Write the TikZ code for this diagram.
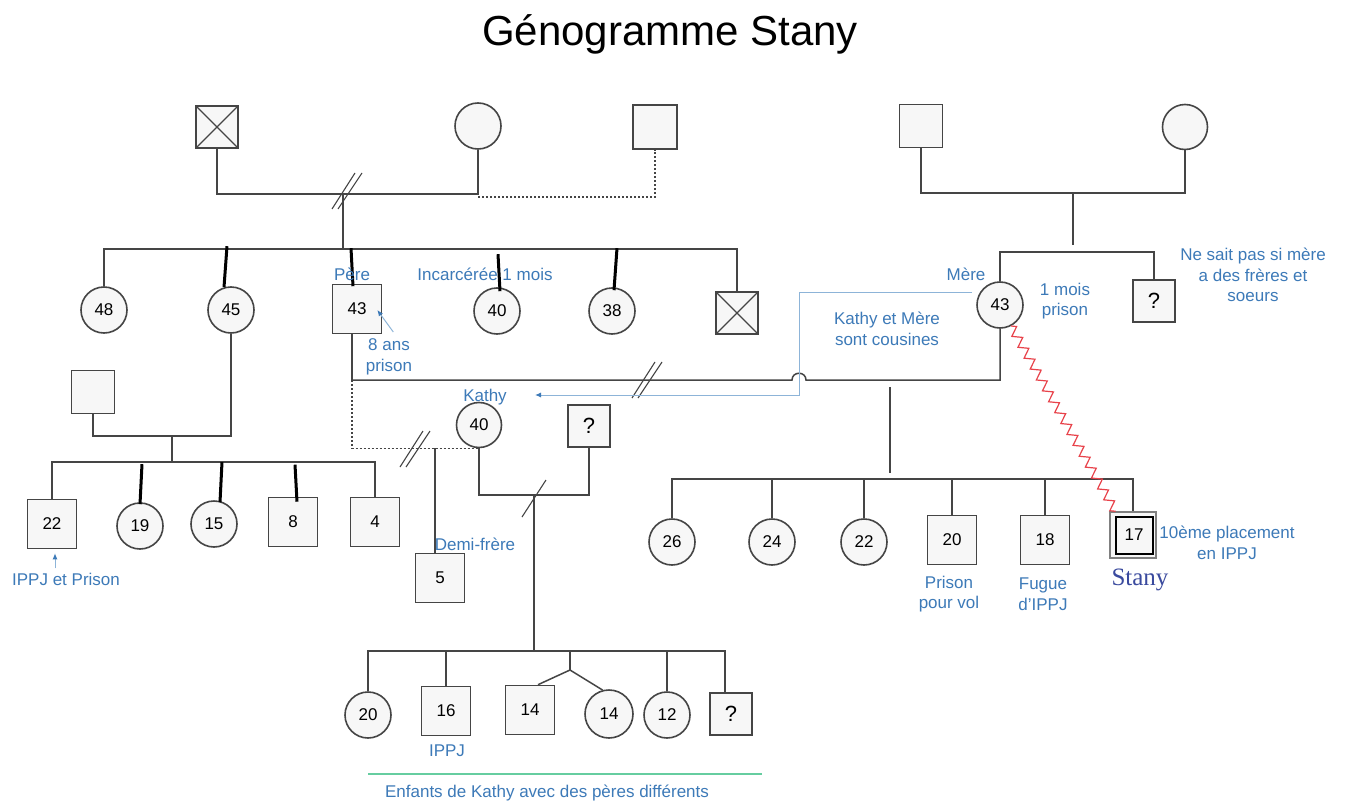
\documentclass[tikz,border=0pt]{standalone}
\usepackage{fontspec}
\setmainfont{Liberation Sans}
\newfontfamily\stanyfont{Liberation Serif}
\usetikzlibrary{calc,arrows.meta,decorations.pathmorphing}
\definecolor{ln}{HTML}{454545}
\definecolor{fl}{HTML}{F7F7F7}
\definecolor{lb}{HTML}{3D7AB8}
\definecolor{lbl}{HTML}{8DB4D8}
\definecolor{rz}{HTML}{E8434B}
\definecolor{gr}{HTML}{66CDA0}
\definecolor{sb}{HTML}{3A4A9E}
\tikzset{
 every node/.style={font=\fontsize{17}{20.5}\selectfont},
 sqn/.style={draw=ln, fill=fl, line width=1.6pt, rectangle, minimum size=49pt, inner sep=0pt},
 cin/.style={draw=ln, fill=fl, line width=1.6pt, circle, minimum size=46pt, inner sep=0pt},
 crossn/.style={sqn, path picture={\draw[ln,line width=1.2pt] (path picture bounding box.north west) -- (path picture bounding box.south east) (path picture bounding box.north east) -- (path picture bounding box.south west);}},
 conn/.style={draw=ln, line width=1.5pt},
 boldc/.style={draw=black, line width=3pt},
 dotc/.style={draw=ln, line width=1.5pt, dash pattern=on 2pt off 2pt},
 lab/.style={text=lb, align=center},
 barrow/.style={draw=lbl, line width=1pt, -{Latex[length=6pt,width=5pt,color=lb]}},
 qmark/.style={font=\fontsize{22}{24}\selectfont},
}
\newcommand\dblslash[1]{\draw[conn,line width=1.1pt] ($(#1)+(-14,18)$) -- ($(#1)+(9,-18)$) ($(#1)+(-8,18)$) -- ($(#1)+(16,-18)$);}
\begin{document}
\begin{tikzpicture}[x=1pt,y=-1pt]
\useasboundingbox[fill=white] (0,0) rectangle (1345,803);
\node[font=\fontsize{42}{48}\selectfont] (title) at (670,34) {Génogramme Stany};

% generation 1
\node[crossn, minimum size=42pt] (gf1) at (217,127) {};
\node[cin, minimum size=46pt] (gm1) at (478,126) {};
\node[sqn, minimum size=44pt] (gp2) at (655,127) {};
\node[sqn, minimum size=43pt] (gf2) at (921,126) {};
\node[cin, minimum size=45pt] (gm2) at (1185,127) {};

% generation 2 left
\node[cin] (a48) at (104,310) {48};
\node[cin] (a45) at (231,310) {45};
\node[sqn] (pere) at (357,309) {43};
\node[cin] (a40) at (497,311) {40};
\node[cin] (a38) at (612,311) {38};
\node[crossn, minimum size=42pt] (ax) at (737,313) {};

% right
\node[cin] (mere) at (1000,305) {43};
\node[sqn, minimum size=42pt, qmark] (mq) at (1154,301) {?};

% connectors gen1 left
\coordinate (m1) at (343,194);
\draw[conn] (gf1.south) |- (m1) -| (gm1.south);
\coordinate (d1) at (478,197);
\draw[dotc] (d1) -| (gp2.south);
\coordinate (s1) at (343,249);
\draw[conn] (m1) -- (s1);
\draw[conn] (a48.north) |- (s1) -| (ax.north);
\dblslash{346,191}

\draw[boldc] ($(a45.north)+(-7,1)$) -- ($(a45.north)+(-4,-40)$);
\draw[boldc] ($(pere.north)+(-4,2.5)$) -- ($(pere.north)+(-6,-35.5)$);
\draw[boldc] ($(a40.north)+(3,4)$) -- ($(a40.north)+(1,-33)$);
\draw[boldc] ($(a38.north)+(2,3)$) -- ($(a38.north)+(5,-39)$);

% mother's family
\coordinate (m2) at (1073,193);
\draw[conn] (gf2.south) |- (m2) -| (gm2.south);
\draw[conn] (m2) -- ++(0,52);
\coordinate (s2) at (1073,252);
\draw[conn] (mere.north) |- (s2) -| (mq.north);

% marriage Pere - Mere
\coordinate (pm) at (352,380);
\draw[conn] (pm |- pere.south) -- (pm);
\coordinate (hump) at (799,380);
\draw[conn] (pm) -- ($(hump)+(-7,0)$) .. controls ($(hump)+(-7,-9)$) and ($(hump)+(7,-9)$) .. ($(hump)+(7,0)$) -- (mere.south |- pm) -- (mere.south);
\dblslash{646,380}

% cousins line
\coordinate (cA) at (972,292);
\coordinate (cB) at (799,395);
\coordinate (cC) at (535,395);
\draw[barrow] (cA) -| (cB) -- (cC);

% children Pere - Mere
\node[cin] (c26) at (672,542) {26};
\node[cin] (c24) at (772,542) {24};
\node[cin] (c22) at (864,542) {22};
\node[sqn] (c20) at (952,540) {20};
\node[sqn] (c18) at (1045,540) {18};
\node[sqn, minimum size=46pt, draw=gray, line width=1.3pt] (stany) at (1133,535) {};
\node[draw=black, line width=2pt, minimum size=37pt, inner sep=0pt, fill=fl] (stanyin) at (1134,535) {17};
\coordinate (pmd) at (890,387);
\coordinate (cs) at (890,479);
\draw[conn] (pmd) -- ($(cs)+(0,-6)$);
\draw[conn] (c26.north) |- (cs) -| (stany.north);
\foreach \n in {c24,c22,c20,c18} \draw[conn] (\n.north) -- (\n.north |- cs);
\draw[rz, line width=1.2pt, decorate, decoration={zigzag, segment length=12.5pt, amplitude=4.5pt}] (mere.-62) -- ($(stany.north west)+(6,0)$);

% left generation 3
\node[sqn, minimum size=43pt] (p45) at (93,392) {};
\coordinate (pu) at (172,436);
\draw[conn] (p45.south) |- (pu) -| (a45.south);
\coordinate (bs) at (172,462);
\draw[conn] (pu) -- (bs);
\node[sqn] (b22) at (52,524) {22};
\node[cin] (b19) at (140,526) {19};
\node[cin] (b15) at (214,524) {15};
\node[sqn] (b8) at (293,522) {8};
\node[sqn] (b4) at (375,522) {4};
\draw[conn] (b22.north) |- (bs) -| (b4.north);
\draw[boldc] ($(b19.north)+(0,2)$) -- ($(b19.north)+(2,-38)$);
\draw[boldc] ($(b15.north)+(6,2)$) -- ($(b15.north)+(8,-38)$);
\draw[boldc] ($(b8.north)+(4,5)$) -- ($(b8.north)+(2,-32)$);
\draw[barrow] ($(b22.south)+(3,19)$) -- ($(b22.south)+(3,4)$);

% Kathy
\node[cin, minimum size=45pt] (kathy) at (479,425) {40};
\node[sqn, minimum size=42pt, qmark] (kq) at (589,426) {?};
\draw[dotc] (pm) |- (kathy.south);
\node[sqn] (h5) at (440,578) {5};
\coordinate (hb) at (435,448);
\draw[conn] (hb) -- (hb |- h5.north);
\dblslash{414,449}
\coordinate (ku) at (534,495);
\draw[conn] (kathy.south) |- (ku) -| (kq.south);
\draw[conn, line width=1.1pt] ($(ku)+(-12,22)$) -- ($(ku)+(12,-15)$);
\coordinate (ks) at (534,651);
\draw[conn] (ku) -- (ks);

% Kathy's children
\node[cin] (k20) at (368,715) {20};
\node[sqn] (k16) at (446,711) {16};
\node[sqn] (k14a) at (530,710) {14};
\node[cin, minimum size=48pt] (k14b) at (609,714) {14};
\node[cin] (k12) at (667,715) {12};
\node[sqn, minimum size=42pt, qmark] (kq2) at (731,714) {?};
\coordinate (ke) at (725,651);
\draw[conn] (k20.north) |- (ks) -- (ke) -- (ke |- kq2.north);
\foreach \n in {k16,k12} \draw[conn] (\n.north) -- (\n.north |- ks);
\coordinate (tw) at (570,651);
\draw[conn] (tw) -- ++(0,19) coordinate (twb);
\draw[conn] ($(k14a.north)+(8,0)$) -- (twb) -- (k14b.105);
\coordinate (gA) at (368,774);
\coordinate (gB) at (762,774);
\draw[gr, line width=1.5pt] (gA) -- (gB);

% labels
\node[lab] (pereL) at (352,274) {Père};
\node[lab] (incL) at (485,274) {Incarcérée 1 mois};
\node[lab] (ansL) at (389,357) {8 ans\\prison};
\draw[barrow] ($(pere.east)+(11,23)$) -- ($(pere.east)+(-5,1)$);
\node[lab] (kathyL) at (485,397) {Kathy};
\node[lab] (demiL) at (475,544) {Demi-frère};
\node[lab] (ipL) at (66,579) {IPPJ et Prison};
\node[lab] (mereL) at (966,274) {Mère};
\node[lab] (moisL) at (1065,301) {1 mois\\prison};
\node[lab] (cousL) at (887,329) {Kathy et Mère\\sont cousines};
\node[lab] (neL) at (1253,275) {Ne sait pas si mère\\a des frères et\\soeurs};
\node[lab] (prL) at (949,594) {Prison\\pour vol};
\node[lab] (fuL) at (1043,594) {Fugue\\d'IPPJ};
\node[text=sb, font=\stanyfont\fontsize{25}{28}\selectfont] (stanyL) at (1140,580) {Stany};
\node[lab] (plL) at (1227,543) {10ème placement\\en IPPJ};
\node[lab] (ippjL) at (447,751) {IPPJ};
\node[lab] (enfL) at (547,793) {Enfants de Kathy avec des pères différents};
\end{tikzpicture}
\end{document}
